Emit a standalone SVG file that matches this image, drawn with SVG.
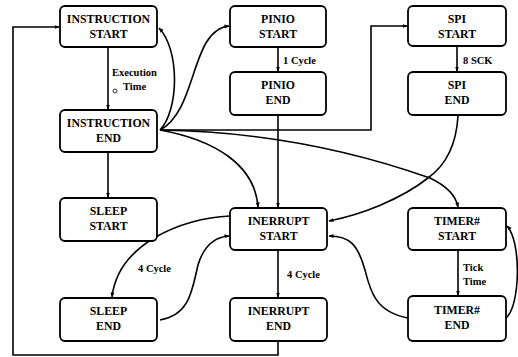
<svg xmlns="http://www.w3.org/2000/svg" width="518" height="357" viewBox="0 0 518 357">
<defs>
<marker id="ah" viewBox="0 0 10 10" refX="9" refY="5" markerWidth="5" markerHeight="5" orient="auto" markerUnits="userSpaceOnUse">
<path d="M0,1 L10,5 L0,9 z" fill="#000"/>
</marker>
<style>
.box{fill:#fff;stroke:#000;stroke-width:1.8}
.nt{font-family:"Liberation Serif","Times New Roman",serif;font-weight:bold;font-size:11.8px;text-anchor:middle;fill:#000}
.lb{font-family:"Liberation Serif","Times New Roman",serif;font-weight:bold;font-size:10.5px;fill:#000}
.c{fill:none;stroke:#000;stroke-width:1.6;marker-end:url(#ah)}
</style>
</defs>
<rect width="518" height="357" fill="#fff"/>
<g id="connectors">
<path class="c" d="M108,47 L108,109"/>
<path class="c" d="M160,130 C179,110 180,50 159,28"/>
<path class="c" d="M160,130 C198,110 190,30 229,26"/>
<path class="c" d="M160,130 L371,130 L371,26 L407,26"/>
<path class="c" d="M160,130 Q300,132 430,178 Q455,190 458,207"/>
<path class="c" d="M160,130 C215,140 255,165 258,207"/>
<path class="c" d="M108,152 L108,197"/>
<path class="c" d="M278,47 L278,71"/>
<path class="c" d="M278,115 L278,207"/>
<path class="c" d="M457,46 L457,71"/>
<path class="c" d="M458,116 C456,150 442,168 428,178 C400,200 360,215 329,221"/>
<path class="c" d="M230,216 C180,218 118,245 112,297"/>
<path class="c" d="M160,320 C190,315 192,290 198,265 C204,245 215,237 229,236"/>
<path class="c" d="M278,250 L278,297"/>
<path class="c" d="M278,341 L278,355 L13,355 L13,27 L59,27"/>
<path class="c" d="M458,250 L458,295"/>
<path class="c" d="M408,318 C375,312 370,290 365,270 C358,245 350,236 329,236"/>
<path class="c" d="M506,318 C521,305 521,240 507,226"/>
<text class="lb" x="112" y="76">Execution</text>
<text class="lb" x="123" y="90">Time</text>
<circle cx="115" cy="91" r="2" fill="none" stroke="#000" stroke-width="0.8"/>
<text class="lb" x="283" y="64">1 Cycle</text>
<text class="lb" x="463" y="64">8 SCK</text>
<text class="lb" x="138" y="272">4 Cycle</text>
<text class="lb" x="287" y="278">4 Cycle</text>
<text class="lb" x="463" y="271">Tick</text>
<text class="lb" x="463" y="285">Time</text>
</g>
<g id="instr-start"><rect class="box" x="60" y="6" width="97" height="41" rx="5"/><text class="nt" x="108.5" y="23">INSTRUCTION</text><text class="nt" x="108.5" y="38">START</text></g>
<g id="instr-end"><rect class="box" x="60" y="110" width="97" height="42" rx="5"/><text class="nt" x="108.5" y="127">INSTRUCTION</text><text class="nt" x="108.5" y="142">END</text></g>
<g id="sleep-start"><rect class="box" x="60" y="198" width="97" height="43" rx="5"/><text class="nt" x="108.5" y="215">SLEEP</text><text class="nt" x="108.5" y="230">START</text></g>
<g id="sleep-end"><rect class="box" x="60" y="298" width="97" height="43" rx="5"/><text class="nt" x="108.5" y="315">SLEEP</text><text class="nt" x="108.5" y="330">END</text></g>
<g id="pinio-start"><rect class="box" x="230" y="6" width="96" height="41" rx="5"/><text class="nt" x="278" y="23">PINIO</text><text class="nt" x="278" y="38">START</text></g>
<g id="pinio-end"><rect class="box" x="230" y="72" width="96" height="43" rx="5"/><text class="nt" x="278" y="89">PINIO</text><text class="nt" x="278" y="104">END</text></g>
<g id="int-start"><rect class="box" x="230" y="208" width="97" height="42" rx="5"/><text class="nt" x="278.5" y="225">INERRUPT</text><text class="nt" x="278.5" y="240">START</text></g>
<g id="int-end"><rect class="box" x="230" y="298" width="97" height="43" rx="5"/><text class="nt" x="278.5" y="315">INERRUPT</text><text class="nt" x="278.5" y="330">END</text></g>
<g id="spi-start"><rect class="box" x="408" y="6" width="98" height="40" rx="5"/><text class="nt" x="457" y="23">SPI</text><text class="nt" x="457" y="38">START</text></g>
<g id="spi-end"><rect class="box" x="408" y="72" width="98" height="43" rx="5"/><text class="nt" x="457" y="89">SPI</text><text class="nt" x="457" y="104">END</text></g>
<g id="timer-start"><rect class="box" x="408" y="208" width="98" height="42" rx="5"/><text class="nt" x="457" y="225">TIMER#</text><text class="nt" x="457" y="240">START</text></g>
<g id="timer-end"><rect class="box" x="408" y="296" width="98" height="45" rx="5"/><text class="nt" x="457" y="314">TIMER#</text><text class="nt" x="457" y="329">END</text></g>
</svg>
